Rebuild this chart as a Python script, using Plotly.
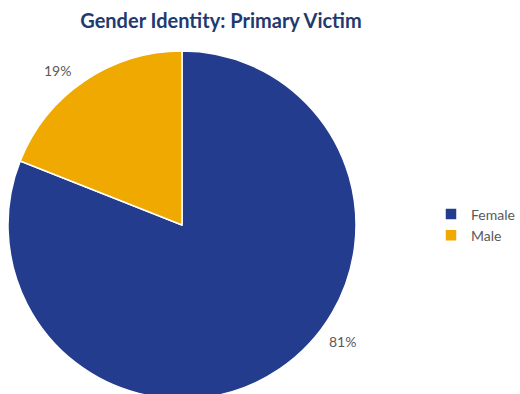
import plotly.graph_objects as go

categories = ["Female", "Male"]
values = [81, 19]
colors = ["#243C8E", "#F0A900"]
label_pos = [(342, 341), (57, 70)]  # pixel positions of % labels (x, y from top)

W, H = 520, 400

fig = go.Figure()
fig.add_trace(go.Pie(
    labels=categories,
    values=values,
    sort=False,
    direction="clockwise",
    rotation=0,
    marker=dict(colors=colors, line=dict(color="white", width=1.5)),
    textinfo="none",
    hoverinfo="label+percent",
    domain=dict(x=[8 / W, 356 / W], y=[1 - 399 / H, 1 - 51 / H]),
    showlegend=True,
))

total = sum(values)
for v, (px, py) in zip(values, label_pos):
    fig.add_annotation(
        x=px / W, y=1 - py / H, xref="paper", yref="paper",
        text=f"{round(v / total * 100)}%", showarrow=False,
        font=dict(family="Lato", size=14, color="#595959"),
        xanchor="center", yanchor="middle",
    )

fig.update_layout(
    width=W, height=H,
    margin=dict(l=0, r=0, t=0, b=0, autoexpand=False),
    paper_bgcolor="white", plot_bgcolor="white",
    title=dict(
        text="<b>Gender Identity: Primary Victim</b>",
        x=221 / W, xanchor="center", y=1 - 21 / H, yanchor="middle",
        font=dict(family="Lato", size=20, color="#1F3A6E"),
    ),
    legend=dict(
        x=431 / W, xanchor="left", y=1 - 225 / H, yanchor="middle",
        font=dict(family="Lato", size=14, color="#595959"),
        bgcolor="rgba(0,0,0,0)",
    ),
)

fig.write_html("out.html", post_script="document.body.style.overflow='hidden';document.documentElement.style.overflow='hidden';")
